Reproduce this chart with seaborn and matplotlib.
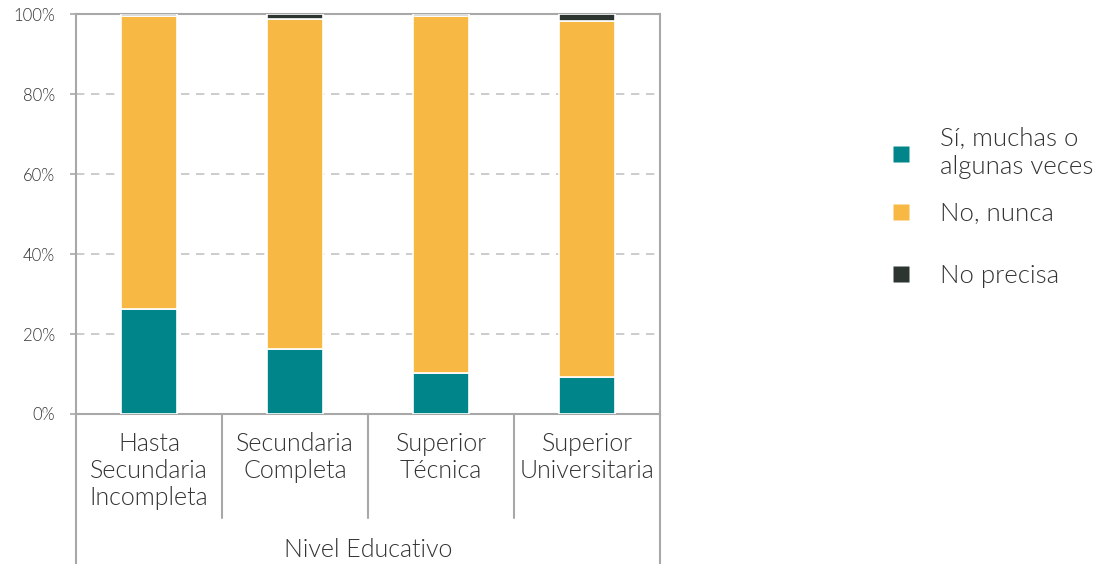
import matplotlib
matplotlib.use("Agg")
import matplotlib.pyplot as plt
import matplotlib.transforms as mtransforms
from matplotlib.lines import Line2D
import seaborn as sns
import pandas as pd

categories = ["Hasta\nSecundaria\nIncompleta", "Secundaria\nCompleta", "Superior\nTécnica", "Superior\nUniversitaria"]
si_values = [26.3, 16.2, 10.2, 9.2]
no_values = [73.2, 82.6, 89.3, 89.1]
np_values = [0.5, 1.2, 0.5, 1.7]
series_names = ["Sí, muchas o\nalgunas veces", "No, nunca", "No precisa"]
colors = ["#00868A", "#F7B844", "#2D3530"]
y_ticks = [0, 20, 40, 60, 80, 100]
axis_title = "Nivel Educativo"

sns.set_theme(style="white")
plt.rcParams["font.family"] = ["Lato", "DejaVu Sans"]
text_color = "#333333"
fw = 300

df = pd.DataFrame({"cat": categories, "si": si_values, "no": no_values, "np": np_values})
df["b2"] = df["si"]
df["b3"] = df["si"] + df["no"]

fig = plt.figure(figsize=(11.13, 5.64), dpi=100)
ax = fig.add_axes([0.0683, 0.266, 0.5247, 0.709])

w = 0.39
sns.barplot(data=df, x="cat", y="si", color=colors[0], width=w, ax=ax,
            edgecolor="white", linewidth=1.2, saturation=1, zorder=3)
sns.barplot(data=df, x="cat", y="no", bottom=df["b2"], color=colors[1], width=w, ax=ax,
            edgecolor="white", linewidth=1.2, saturation=1, zorder=3)
sns.barplot(data=df, x="cat", y="np", bottom=df["b3"], color=colors[2], width=w, ax=ax,
            edgecolor="white", linewidth=1.2, saturation=1, zorder=3)

ax.set_xlim(-0.5, 3.5)
ax.set_ylim(0, 100)
ax.set_yticks(y_ticks)
ax.set_yticklabels([f"{v}%" for v in y_ticks], fontsize=12, color=text_color, fontweight=fw)
ax.set_xticks([])
ax.set_xlabel("")
ax.set_ylabel("")
for v in y_ticks[1:-1]:
    ax.axhline(v, color="#c4c4c4", linestyle=(0, (5, 4)), linewidth=1.2, zorder=1)
for s in ["left", "right", "top", "bottom"]:
    ax.spines[s].set_visible(True)
    ax.spines[s].set_color("#a8a8a8")
    ax.spines[s].set_linewidth(1.5)
ax.tick_params(axis="y", left=True, length=4, width=1.2, color="#a8a8a8", pad=11)

trans = mtransforms.blended_transform_factory(ax.transData, ax.transAxes)
for x in [0.5, 1.5, 2.5]:
    ax.plot([x, x], [0, -0.26], transform=trans, color="#a8a8a8", lw=1.5, clip_on=False)
for x in [-0.5, 3.5]:
    ax.plot([x, x], [0, -0.375], transform=trans, color="#a8a8a8", lw=1.5, clip_on=False)
for i, c in enumerate(categories):
    ax.text(i, -0.045, c, transform=trans, ha="center", va="top", fontsize=18,
            color=text_color, fontweight=fw, linespacing=1.15)
ax.text(1.5, -0.34, axis_title, transform=trans, ha="center", va="center", fontsize=18,
        color=text_color, fontweight=fw)

legend_y = [0.7287, 0.6206, 0.5106]
for name, c, yy in zip(series_names, colors, legend_y):
    h = Line2D([], [], marker="s", linestyle="none", markersize=12,
               markerfacecolor=c, markeredgecolor="none")
    leg = fig.legend([h], [name], loc="center left", bbox_to_anchor=(0.798, yy),
                     frameon=False, fontsize=18.5, handlelength=1.0,
                     handletextpad=1.0, borderaxespad=0, borderpad=0)
    for t in leg.get_texts():
        t.set_color(text_color)
        t.set_fontweight(fw)
        t.set_linespacing(1.2)

fig.savefig("out.png", dpi=100)
